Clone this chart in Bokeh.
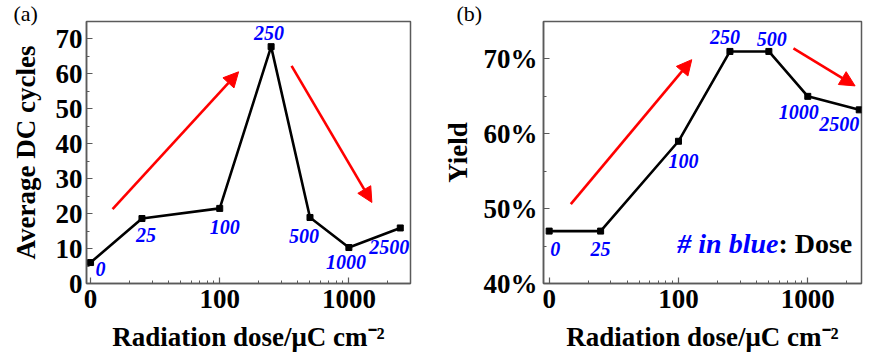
from bokeh.plotting import figure
from bokeh.layouts import row
from bokeh.models import (Range1d, FixedTicker, SingleIntervalTicker, PrintfTickFormatter,
                          Arrow, NormalHead, Label, ColumnDataSource, Title)
from bokeh.embed import file_html
from bokeh.resources import INLINE
from bokeh.core.properties import value

# ---------------- data ----------------
dose_labels = ["0", "25", "100", "250", "500", "1000", "2500"]
# dose 0 is drawn at the axis position labelled "0" (log position 10)
dose_pos = [10, 25, 100, 250, 500, 1000, 2500]
dc_cycles = [6.0, 18.6, 21.5, 67.8, 18.9, 10.3, 15.9]
yield_pct = [47.0, 47.0, 59.0, 71.0, 71.0, 65.0, 63.2]

x_major_ticks = [10, 100, 1000]
x_major_labels = {10: "0", 100: "100", 1000: "1000"}
x_minor_ticks = [20, 30, 40, 50, 60, 70, 80, 90,
                 200, 300, 400, 500, 600, 700, 800, 900, 2000]

# trend arrows (start x, start y, end x, end y)
arrows_a = [(14.8, 21.3, 140, 60.6), (360, 62.3, 1507, 23.2)]
arrows_b = [(14.7, 50.6, 126.7, 69.9), (775, 71.4, 2322, 66.4)]

# label pixel offsets (styling)
dx_a = [10, 4, 5, -2, -6, -3, -11]
dy_a = [6, 16, 19, -14, 19, 14, 19]
dx_b = [6, 0, 5, -5, 3, -9, -20]
dy_b = [18, 18, 20, -14, -12, 16, 14]

SERIF = value("Liberation Serif")
GRAY = "#5a5a5a"
BLUE = "#0000ff"
RED = "#ff0000"


def style_axes(p):
    p.grid.visible = False
    p.outline_line_color = GRAY
    p.outline_line_width = 1.5
    p.background_fill_color = "white"
    p.border_fill_color = "white"
    for ax in (p.xaxis[0], p.yaxis[0]):
        ax.axis_line_color = GRAY
        ax.axis_line_width = 1.5
        ax.major_tick_line_color = GRAY
        ax.minor_tick_line_color = GRAY
        ax.major_tick_line_width = 1.2
        ax.minor_tick_line_width = 1.0
        ax.major_tick_in = 6
        ax.major_tick_out = 0
        ax.minor_tick_in = 3
        ax.minor_tick_out = 0
        ax.major_label_text_font = "Liberation Serif"
        ax.major_label_text_font_style = "bold"
        ax.major_label_text_font_size = "27px"
        ax.major_label_text_color = "black"
        ax.axis_label_text_font = "Liberation Serif"
        ax.axis_label_text_font_style = "bold"
        ax.axis_label_text_font_size = "27px"
        ax.axis_label_text_color = "black"
    p.xaxis[0].ticker = FixedTicker(ticks=x_major_ticks, minor_ticks=x_minor_ticks)
    p.xaxis[0].major_label_overrides = x_major_labels
    p.xaxis[0].major_label_standoff = 6
    p.xaxis[0].axis_label = "Radiation dose/\u03bcC cm\u207b\u00b2"
    p.xaxis[0].axis_label_standoff = 11


def add_panel_title(p, txt, offset):
    t = Title(text=txt, align="left", offset=offset, standoff=-8,
              text_font="Liberation Serif", text_font_style="normal",
              text_font_size="22px", text_color="black")
    p.add_layout(t, "above")


def add_series(p, yvals, dx, dy, arrows):
    src = ColumnDataSource(dict(x=dose_pos, y=yvals, t=dose_labels, dx=dx, dy=dy))
    p.line("x", "y", source=src, line_color="black", line_width=2.6)
    p.scatter("x", "y", source=src, marker="square", size=6, color="black")
    p.text("x", "y", text="t", source=src, x_offset="dx", y_offset="dy",
           text_font=SERIF, text_font_style="bold italic", text_font_size="20px",
           text_color=BLUE, text_align="center", text_baseline="middle")
    for (xs, ys, xe, ye) in arrows:
        p.add_layout(Arrow(x_start=xs, y_start=ys, x_end=xe, y_end=ye,
                           line_color=RED, line_width=2.6,
                           end=NormalHead(size=15, fill_color=RED, line_color=RED,
                                          line_width=1)))


# ---------------- panel (a) ----------------
pa = figure(width=436, height=354, x_axis_type="log",
            x_range=Range1d(9.3, 3000), y_range=Range1d(0, 75),
            output_backend="svg", toolbar_location=None,
            min_border_left=86, min_border_right=26,
            min_border_top=21, min_border_bottom=69)
style_axes(pa)
pa.yaxis[0].ticker = SingleIntervalTicker(interval=10, num_minor_ticks=2)
pa.yaxis[0].axis_label = "Average DC cycles"
pa.yaxis[0].major_label_standoff = 4
pa.yaxis[0].axis_label_standoff = 12
add_series(pa, dc_cycles, dx_a, dy_a, arrows_a)
add_panel_title(pa, "(a)", -73)

# ---------------- panel (b) ----------------
pb = figure(width=427, height=354, x_axis_type="log",
            x_range=Range1d(9.04, 2603), y_range=Range1d(40, 75),
            output_backend="svg", toolbar_location=None,
            min_border_left=107, min_border_right=2,
            min_border_top=21, min_border_bottom=69)
style_axes(pb)
pb.yaxis[0].ticker = SingleIntervalTicker(interval=10, num_minor_ticks=2)
pb.yaxis[0].formatter = PrintfTickFormatter(format="%d%%")
pb.yaxis[0].axis_label = "Yield"
pb.yaxis[0].major_label_standoff = 6
pb.yaxis[0].axis_label_standoff = 8
add_series(pb, yield_pct, dx_b, dy_b, arrows_b)
add_panel_title(pb, "(b)", -87)
pb.add_layout(Label(x=593, y=45.3, text="# in blue",
                    text_font="Liberation Serif", text_font_style="bold italic",
                    text_font_size="28px", text_color=BLUE,
                    text_baseline="middle", text_align="right"))
pb.add_layout(Label(x=593, y=45.3, text=": Dose",
                    text_font="Liberation Serif", text_font_style="bold",
                    text_font_size="28px", text_color="black",
                    text_baseline="middle", text_align="left"))

layout = row(pa, pb)
open("out.html", "w").write(file_html(layout, INLINE))
